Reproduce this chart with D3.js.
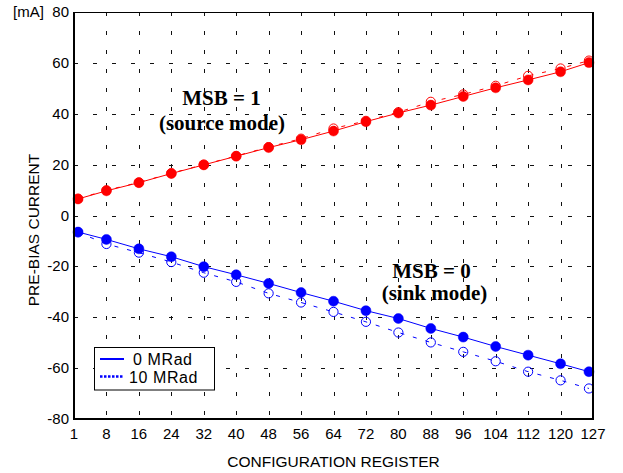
<!DOCTYPE html>
<html>
<head>
<meta charset="utf-8">
<script src="https://cdn.jsdelivr.net/npm/d3@7"></script>
<style>
  body { margin: 0; background: #fff; }
  svg { display: block; }
</style>
</head>
<body>
<div id="chart"></div>
<script>
// data
const config = [1, 8, 16, 24, 32, 40, 48, 56, 64, 72, 80, 88, 96, 104, 112, 120, 127];
const source0 = [6.5, 9.7, 12.9, 16.5, 19.9, 23.3, 26.7, 29.8, 33.2, 36.9, 40.3, 43.4, 46.8, 50.2, 53.3, 56.5, 60.1];
const source10 = [6.6, 9.9, 13.0, 16.6, 20.0, 23.4, 26.9, 30.2, 34.2, 37.2, 40.6, 44.7, 47.6, 51.0, 54.9, 57.8, 60.9];
const sink0 = [-6.5, -9.4, -13.1, -16.2, -20.1, -23.3, -26.7, -30.3, -33.7, -37.4, -40.5, -44.4, -47.8, -51.5, -54.9, -58.3, -61.4];
const sink10 = [-6.6, -11.2, -14.6, -18.3, -22.5, -26.1, -30.6, -34.2, -37.9, -41.8, -46.0, -49.9, -53.6, -57.3, -61.4, -64.8, -68.0];
const xTickVals = [0, 8, 16, 24, 32, 40, 48, 56, 64, 72, 80, 88, 96, 104, 112, 120, 128];
const xTickLabels = ["1", "8", "16", "24", "32", "40", "48", "56", "64", "72", "80", "88", "96", "104", "112", "120", "127"];
const yTickVals = [-80, -60, -40, -20, 0, 20, 40, 60, 80];
const legendLabels = ["0 MRad", "10 MRad"];

const W = 623, H = 473;
const margin = { left: 74, right: 30, top: 12, bottom: 54 };

var svg = d3.select("#chart").append("svg")
  .attr("width", W)
  .attr("height", H);

// scales
var x = d3.scaleLinear().domain([0, 128]).range([margin.left, W - margin.right]);
var y = d3.scaleLinear().domain([-80, 80]).range([H - margin.bottom, margin.top]);

// grid (dotted matlab style)
var grid = svg.append("g")
  .attr("stroke", "#111")
  .attr("stroke-width", 1)
  .attr("stroke-dasharray", "4,15")
  .attr("shape-rendering", "crispEdges");
grid.selectAll("line.v")
  .data(xTickVals.slice(1, -1))
  .enter().append("line")
  .attr("x1", d => Math.round(x(d)) + 0.5).attr("x2", d => Math.round(x(d)) + 0.5)
  .attr("y1", y(80)).attr("y2", y(-80));
grid.selectAll("line.h")
  .data(yTickVals.slice(1, -1))
  .enter().append("line")
  .attr("y1", d => Math.round(y(d)) + 0.5).attr("y2", d => Math.round(y(d)) + 0.5)
  .attr("x1", x(0)).attr("x2", x(128));

// series
const series = [
  { vals: source0, color: "#ff0000", open: false },
  { vals: source10, color: "#ff0000", open: true },
  { vals: sink0, color: "#0000ff", open: false },
  { vals: sink10, color: "#0000ff", open: true }
];

var line = d3.line().x(d => x(d[0])).y(d => y(d[1]));

series.forEach(function (s) {
  var pts = config.map((c, i) => [c, s.vals[i]]);
  svg.append("path")
    .datum(pts)
    .attr("d", line)
    .attr("fill", "none")
    .attr("stroke", s.color)
    .attr("stroke-width", 1)
    .attr("stroke-dasharray", s.open ? "4,9" : null);
});

// markers: filled first, open circles on top
series.filter(s => !s.open).concat(series.filter(s => s.open)).forEach(function (s) {
  svg.append("g").selectAll("circle")
    .data(config.map((c, i) => [c, s.vals[i]]))
    .enter().append("circle")
    .attr("cx", d => x(d[0]))
    .attr("cy", d => y(d[1]))
    .attr("r", s.open ? 4.6 : 5)
    .attr("fill", s.open ? "none" : s.color)
    .attr("stroke", s.color)
    .attr("stroke-width", s.open ? 1 : 0.5);
});

// axis box
var box = svg.append("g").attr("stroke", "#000").attr("fill", "none");
box.append("line").attr("x1", x(0)).attr("x2", x(128)).attr("y1", y(80) + 0.5).attr("y2", y(80) + 0.5).attr("stroke-width", 1);
box.append("line").attr("x1", x(0)).attr("x2", x(0)).attr("y1", y(80)).attr("y2", y(-80) + 1).attr("stroke-width", 2);
box.append("line").attr("x1", x(128)).attr("x2", x(128)).attr("y1", y(80)).attr("y2", y(-80) + 1).attr("stroke-width", 2);
box.append("line").attr("x1", x(0) - 1).attr("x2", x(128) + 1).attr("y1", y(-80)).attr("y2", y(-80)).attr("stroke-width", 2);

// tick labels
svg.append("g").selectAll("text")
  .data(xTickVals)
  .enter().append("text")
  .attr("x", d => x(d))
  .attr("y", y(-80) + 20)
  .attr("text-anchor", "middle")
  .style("font-family", "'Liberation Sans', Arial, sans-serif")
  .style("font-size", "15px")
  .text((d, i) => xTickLabels[i]);

svg.append("g").selectAll("text")
  .data(yTickVals)
  .enter().append("text")
  .attr("x", x(0) - 5)
  .attr("y", d => y(d) + 5)
  .attr("text-anchor", "end")
  .style("font-family", "'Liberation Sans', Arial, sans-serif")
  .style("font-size", "15px")
  .text(d => String(d));

svg.append("text")
  .attr("x", 13)
  .attr("y", 17)
  .style("font-family", "'Liberation Sans', Arial, sans-serif")
  .style("font-size", "15px")
  .text("[mA]");

// axis titles
svg.append("text")
  .attr("x", (x(0) + x(128)) / 2)
  .attr("y", 467)
  .attr("text-anchor", "middle")
  .style("font-family", "'Liberation Sans', Arial, sans-serif")
  .style("font-size", "15.5px")
  .text("CONFIGURATION REGISTER");

svg.append("text")
  .attr("transform", "translate(38.5,230) rotate(-90)")
  .attr("text-anchor", "middle")
  .style("font-family", "'Liberation Sans', Arial, sans-serif")
  .style("font-size", "15.5px")
  .text("PRE-BIAS CURRENT");

// annotations
function note(cx, by, txt) {
  svg.append("text")
    .attr("x", cx)
    .attr("y", by)
    .attr("text-anchor", "middle")
    .style("font-family", "'Liberation Serif', 'Times New Roman', serif")
    .style("font-weight", "bold")
    .style("font-size", "21px")
    .text(txt);
}
note(221.5, 105, "MSB = 1");
note(222, 129.5, "(source mode)");
note(431.5, 277.5, "MSB = 0");
note(434.5, 300, "(sink mode)");

// legend
var leg = svg.append("g");
leg.append("rect")
  .attr("x", 94.5).attr("y", 347.5)
  .attr("width", 120).attr("height", 42.5)
  .attr("fill", "#fff").attr("stroke", "#000").attr("stroke-width", 1);
leg.append("line")
  .attr("x1", 100).attr("x2", 124).attr("y1", 359).attr("y2", 359)
  .attr("stroke", "#0000ff").attr("stroke-width", 2);
leg.append("line")
  .attr("x1", 100).attr("x2", 124).attr("y1", 376.5).attr("y2", 376.5)
  .attr("stroke", "#0000ff").attr("stroke-width", 2.5).attr("stroke-dasharray", "2.5,1.5");
leg.append("text")
  .attr("x", 133).attr("y", 364.5)
  .style("font-family", "'Liberation Sans', Arial, sans-serif")
  .style("font-size", "16px")
  .style("letter-spacing", "0.6px")
  .text(legendLabels[0]);
leg.append("text")
  .attr("x", 129).attr("y", 383)
  .style("font-family", "'Liberation Sans', Arial, sans-serif")
  .style("font-size", "16px")
  .style("letter-spacing", "0.6px")
  .text(legendLabels[1]);
</script>
</body>
</html>
